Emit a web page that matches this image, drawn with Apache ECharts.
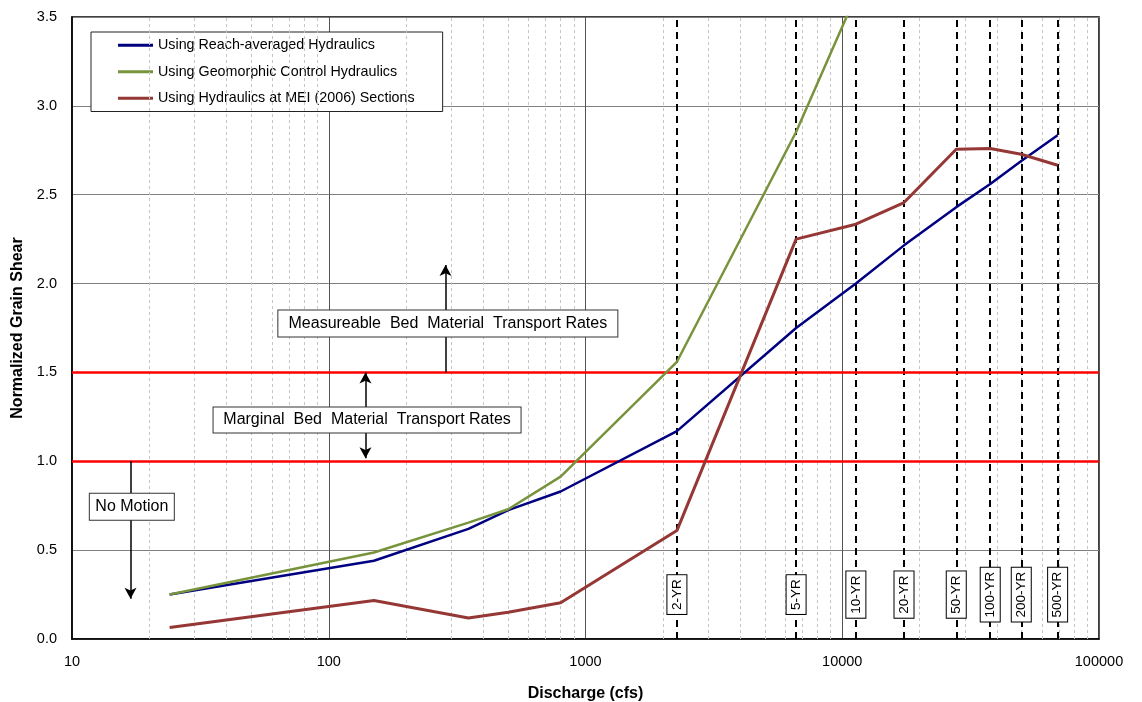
<!DOCTYPE html>
<html>
<head>
<meta charset="utf-8">
<script src="https://cdn.jsdelivr.net/npm/echarts@6/dist/echarts.min.js"></script>
<style>
html,body{margin:0;padding:0;background:#fff;}
#chart{width:1142px;height:702px;}
</style>
</head>
<body>
<div id="chart"></div>
<script>
// ---- data ----
const discharge = [24, 150, 350, 500, 800, 2270, 6610, 11300, 17400, 27800, 37700, 49800, 69000];
const reachAveraged = [0.25, 0.44, 0.62, 0.725, 0.83, 1.17, 1.75, 2.0, 2.215, 2.43, 2.56, 2.69, 2.835];
const geomorphicControl = [0.25, 0.487, 0.655, 0.73, 0.914, 1.56, 2.853, 3.62];
const meiSections = [0.065, 0.217, 0.118, 0.15, 0.204, 0.61, 2.25, 2.334, 2.456, 2.756, 2.76, 2.728, 2.666];
const seriesNames = ['Using Reach-averaged Hydraulics', 'Using Geomorphic Control Hydraulics', 'Using Hydraulics at MEI (2006) Sections'];
const returnPeriodFlows = [2270, 6610, 11300, 17400, 27800, 37700, 49800, 69000];
const returnPeriodLabels = ['2-YR', '5-YR', '10-YR', '20-YR', '50-YR', '100-YR', '200-YR', '500-YR'];
const thresholds = [1.0, 1.5];
const xTicks = [10, 100, 1000, 10000, 100000];
const yTicks = [0, 0.5, 1.0, 1.5, 2.0, 2.5, 3.0, 3.5];
const minorX = [20,30,40,50,60,70,80,90,200,300,400,500,600,700,800,900,2000,3000,4000,5000,6000,7000,8000,9000,20000,30000,40000,50000,60000,70000,80000,90000];
const annotations = [
  {text: 'Measureable  Bed  Material  Transport Rates', x: 291, y: 1.775, w: 341, h: 28},
  {text: 'Marginal  Bed  Material  Transport Rates', x: 141, y: 1.233, w: 309, h: 27},
  {text: 'No Motion', x: 17.1, y: 0.744, w: 86, h: 28}
];
const arrows = [
  {x: 285, from: 1.5, to: 2.104, both: false},
  {x: 139, from: 1.5, to: 1.017, both: true},
  {x: 16.9, from: 1.0, to: 0.2265, both: false}
];
const rpLabelY = 0.25;

const colors = ['#000080', '#77933C', '#953735'];
const FONT = 'Liberation Sans, Arial, sans-serif';

function pairs(ys) { return ys.map((v, i) => [discharge[i], v]); }

const chart = echarts.init(document.getElementById('chart'), null, {renderer: 'canvas'});

const arrowLines = [];
arrows.forEach(a => {
  arrowLines.push([
    {coord: [a.x, a.from], symbol: a.both ? 'arrow' : 'none'},
    {coord: [a.x, a.to], symbol: 'arrow'}
  ]);
});

const option = {
  animation: false,
  backgroundColor: '#fff',
  textStyle: {fontFamily: FONT},
  grid: {left: 72, right: 43, top: 17, bottom: 63, containLabel: false, outerBoundsMode: 'none',
    show: true, borderColor: '#000', borderWidth: 1.5, backgroundColor: 'transparent'},
  legend: {
    data: seriesNames,
    orient: 'vertical',
    left: 91, top: 32,
    backgroundColor: '#fff',
    borderColor: '#222', borderWidth: 1,
    padding: [6, 28, 6, 27],
    itemGap: 12,
    itemWidth: 35, itemHeight: 3,
    icon: 'rect',
    textStyle: {fontSize: 14.3, color: '#000', fontFamily: FONT, lineHeight: 14.5},
    selectedMode: false
  },
  xAxis: {
    type: 'log', logBase: 10, min: 10, max: 100000,
    name: 'Discharge (cfs)', nameLocation: 'middle', nameGap: 47,
    nameTextStyle: {fontSize: 16, fontWeight: 'bold', color: '#000', fontFamily: FONT},
    axisLine: {show: true, lineStyle: {color: '#000', width: 1.5}},
    axisTick: {show: false},
    axisLabel: {fontSize: 14.5, color: '#000', margin: 15, fontFamily: FONT,
      formatter: v => { const t = xTicks.find(k => Math.abs(Math.log10(k) - Math.log10(v)) < 1e-6); return t ? String(t) : ''; }},
    splitLine: {show: true, lineStyle: {color: '#555', width: 1}},
    minorTick: {show: false}, minorSplitLine: {show: false}
  },
  yAxis: {
    type: 'value', min: 0, max: 3.5, interval: 0.5,
    name: 'Normalized Grain Shear', nameLocation: 'middle', nameGap: 46,
    nameTextStyle: {fontSize: 16, fontWeight: 'bold', color: '#000', fontFamily: FONT},
    axisLine: {show: true, lineStyle: {color: '#000', width: 1.5}},
    axisTick: {show: false},
    axisLabel: {fontSize: 14.5, color: '#000', margin: 15, fontFamily: FONT, formatter: v => v.toFixed(1)},
    splitLine: {show: true, lineStyle: {color: '#808080', width: 1}}
  },
  series: [
    {
      name: 'gridhelper', type: 'line', data: [], z: 1, silent: true,
      markLine: {
        silent: true, symbol: 'none', animation: false,
        label: {show: false},
        lineStyle: {color: '#c4c4c4', type: [3, 3], width: 1},
        data: minorX.map(v => ({xAxis: v}))
      }
    },
    {
      name: 'rphelper', type: 'line', data: [], z: 2, silent: true,
      markLine: {
        silent: true, symbol: 'none', animation: false,
        label: {show: false},
        lineStyle: {color: '#000', type: [7, 5], width: 2},
        data: returnPeriodFlows.map(v => ({xAxis: v}))
      },
      markPoint: {
        silent: true, animation: false,
        symbol: 'rect', symbolSize: 1, itemStyle: {color: 'rgba(0,0,0,0)'},
        label: {show: true, position: 'inside', rotate: 90, color: '#000', fontSize: 13.5, fontFamily: FONT,
          backgroundColor: '#fff', borderColor: '#000', borderWidth: 1, padding: [3, 4, 2, 4]},
        data: returnPeriodFlows.map((v, i) => ({coord: [v, rpLabelY], value: returnPeriodLabels[i], label: {formatter: returnPeriodLabels[i]}}))
      }
    },
    {
      name: 'thresholdhelper', type: 'line', data: [], z: 3, silent: true,
      markLine: {
        silent: true, symbol: 'none', animation: false,
        label: {show: false},
        lineStyle: {color: '#FF0000', type: 'solid', width: 2.5},
        data: thresholds.map(v => ({yAxis: v}))
      }
    },
    {
      name: 'arrowhelper', type: 'line', data: [], z: 4, silent: true,
      markLine: {
        silent: true, animation: false, symbolSize: [9, 11],
        label: {show: false},
        lineStyle: {color: '#000', type: 'solid', width: 1.5},
        data: arrowLines
      },
      markPoint: {
        silent: true, animation: false,
        symbol: 'rect', symbolSize: 1, itemStyle: {color: 'rgba(0,0,0,0)'},
        label: {show: true, position: 'inside', color: '#000', fontSize: 16, fontFamily: FONT,
          backgroundColor: '#fff', borderColor: '#333', borderWidth: 1, align: 'center', verticalAlign: 'middle'},
        data: annotations.map(a => ({coord: [a.x, a.y], value: 0, label: {formatter: a.text, width: a.w - 2, height: a.h - 2, lineHeight: a.h - 2, padding: 0}}))
      }
    },
    {name: seriesNames[0], type: 'line', data: pairs(reachAveraged), showSymbol: false, symbol: 'none', z: 10,
      lineStyle: {color: colors[0], width: 2.5}, itemStyle: {color: colors[0]}, clip: true},
    {name: seriesNames[1], type: 'line', data: pairs(geomorphicControl), showSymbol: false, symbol: 'none', z: 10,
      lineStyle: {color: colors[1], width: 2.5}, itemStyle: {color: colors[1]}, clip: true},
    {name: seriesNames[2], type: 'line', data: pairs(meiSections), showSymbol: false, symbol: 'none', z: 10,
      lineStyle: {color: colors[2], width: 3}, itemStyle: {color: colors[2]}, clip: true}
  ]
};
chart.setOption(option);
</script>
</body>
</html>
